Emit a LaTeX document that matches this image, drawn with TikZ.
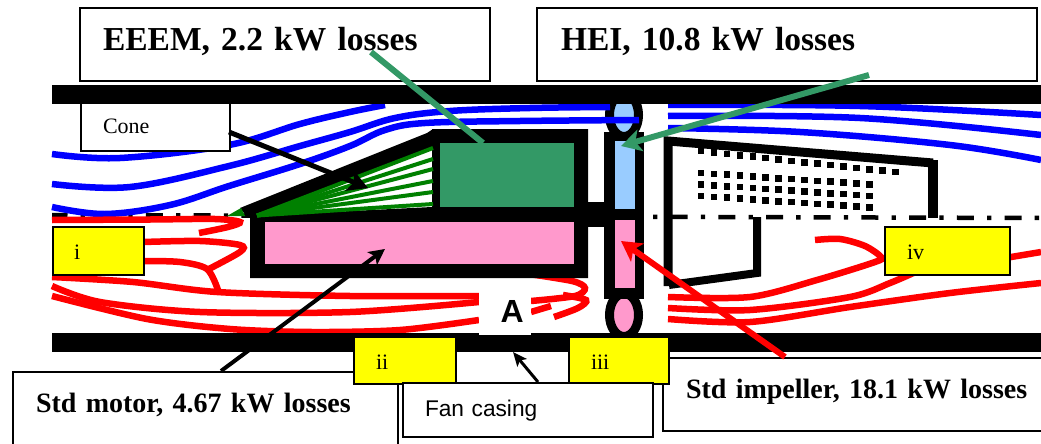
\documentclass[tikz,border=0pt]{standalone}
\usepackage{fontspec}
\setmainfont{Liberation Serif}
\setsansfont{Liberation Sans}
\usetikzlibrary{arrows.meta}
\definecolor{flowblue}{HTML}{0000FF}
\definecolor{flowred}{HTML}{FF0000}
\definecolor{seagreen}{HTML}{339966}
\definecolor{conegreen}{HTML}{008000}
\definecolor{lightpink}{HTML}{FF99CC}
\definecolor{skyblue}{HTML}{99CCFF}
\definecolor{tagyellow}{HTML}{FFFF00}
\tikzset{
  blueflow/.style={draw=flowblue,line width=6.5pt},
  redflow/.style={draw=flowred,line width=6.5pt,line cap=butt},
  labelbox/.style={draw=black,fill=white,line width=2pt},
  tagbox/.style={draw=black,fill=tagyellow,line width=2pt},
  plainbox/.style={fill=white},
  bigbold/.style={font=\fontsize{33.5}{36}\selectfont\bfseries},
  midbold/.style={font=\fontsize{28}{30}\selectfont\bfseries},
  smalltext/.style={font=\fontsize{22}{24}\selectfont},
  sanstext/.style={font=\fontsize{22.7}{25}\selectfont\sffamily},
  conefin/.style={draw=conegreen,line width=4pt},
  casingbar/.style={fill=black},
  dot/.style={fill=black},
  pointer/.style={-{Stealth[length=20pt,width=22pt,inset=5pt]}},
}
% #1 name, #2 x1, #3 y1, #4 x2, #5 y2, #6 text inset, #7 baseline offset from centre, #8 style, #9 text
\newcommand{\textbox}[9]{%
  \pgfmathsetmacro{\bw}{#4-#2}\pgfmathsetmacro{\bh}{#5-#3}%
  \node[#8,anchor=north west,inner sep=0pt,minimum width=\bw pt,minimum height=\bh pt,
        text width=\bw pt,align=left] (#1) at (#2,#3)
        {\hspace*{#6pt}\raisebox{#7pt}[0pt][0pt]{#9}};}
\begin{document}
\begin{tikzpicture}[x=1pt,y=-1pt]
\useasboundingbox (0,0) rectangle (1041,444);
\fill[white] (0,0) rectangle (1041,444);

% centre line
\begin{scope}
\clip (52,200) rectangle (1041,230);
\draw[line width=4.5pt,dash pattern=on 17pt off 13.2pt on 4.3pt off 13.2pt] (50.5,215) -- (1041,218);
\end{scope}

% impeller
\draw[line width=9pt,fill=skyblue] (624,115) ellipse [x radius=14.5,y radius=21.5];
\draw[line width=9pt,fill=lightpink] (624,315) ellipse [x radius=14.5,y radius=21.5];
\fill[black] (604,132) rectangle (644,299);
\fill[skyblue] (615,141) rectangle (635,209);
\fill[lightpink] (615,220) rectangle (635,288);
\fill[black] (586,202) rectangle (606,227);

% blue flow
\draw[blueflow] plot[smooth,tension=.6] coordinates {(52,154) (120,158) (229,145) (300,124) (350,112) (385,105)};
\draw[blueflow] plot[smooth,tension=.6] coordinates {(52,184) (130,187) (229,166) (300,146) (350,132) (395,118) (450,111) (530,108) (610,107)};
\draw[blueflow] plot[smooth,tension=.6] coordinates {(52,207) (105,214) (170,205) (229,186) (300,164) (350,146) (385,130) (425,123) (520,121) (639,120)};
\draw[blueflow] plot[smooth,tension=.6] coordinates {(668,105) (860,106) (1041,115)};
\draw[blueflow] plot[smooth,tension=.6] coordinates {(668,116) (860,118) (1041,135)};
\draw[blueflow] plot[smooth,tension=.6] coordinates {(668,128) (800,132) (950,145) (1041,160)};

% red flow, left
\draw[redflow] plot[smooth,tension=.5] coordinates {(52,220) (150,219.5) (215,219) (240,222) (228,227) (199,233)};
\draw[redflow] plot[smooth,tension=.5] coordinates {(143,242) (200,241) (240,245) (240,252) (207,270)};
\draw[redflow] plot[smooth,tension=.5] coordinates {(143,261) (180,262) (207,269) (218,290)};
\draw[redflow] plot[smooth,tension=.5] coordinates {(52,277) (133,282) (217,292) (350,296) (479,296)};
\draw[redflow] plot[smooth,tension=.5] coordinates {(52,286) (100,302) (200,312) (350,312) (479,302)};
\draw[redflow] plot[smooth,tension=.5] coordinates {(52,296) (147,319) (230,329) (312,332) (400,330) (479,320)};
% red flow, behind A
\draw[redflow] plot[smooth,tension=.5] coordinates {(522,273) (572,281) (585,288) (575,296) (531,301)};
\draw[redflow] (531,312) -- (551,306);
\draw[redflow] plot[smooth,tension=.5] coordinates {(563,295) (586,300) (578,308) (554,317)};
% red flow, right
\draw[redflow] plot[smooth,tension=.5] coordinates {(668,297) (750,297) (817,280) (875,262) (881,257) (865,246) (840,239) (815,240)};
\draw[redflow] plot[smooth,tension=.5] coordinates {(668,308) (750,310) (850,297) (890,283) (920,270)};
\draw[redflow] plot[smooth,tension=.5] coordinates {(668,319) (750,322) (850,307) (950,293) (1041,283)};
\draw[redflow] (1005,258) -- (1041,252);

% motor and cone
\fill[black] (250,216) -- (432,207) -- (432,129) -- (588,129) -- (588,278) -- (250,278) -- cycle;
\fill[black] (240,208) -- (427,133) -- (433,129) -- (433,148) -- (257,216) -- (247,217) -- cycle;
\fill[conegreen] (227,216) -- (241,208) -- (245,216) -- cycle;
\foreach \yy in {148,159,169,181,192,204}
  \draw[conefin] (257,215.5) -- (433,\yy);
\fill[seagreen] (440,143) rectangle (574,207);
\fill[lightpink] (265,222) rectangle (574,264);

% diffuser / rear shape
\draw[line width=9pt,line join=miter] (668,286) -- (668,141) -- (933,163);
\draw[line width=10pt] (933,160) -- (933,218);
\draw[line width=8pt,line join=miter] (757,217) -- (757,273) -- (669,285);

% dots
\foreach \i in {0,...,15}
  \fill[dot] ({701+12.95*\i-3.3},{151+1.4*\i-3.3}) rectangle +(6.6,6.6);
\foreach \r/\yy in {0/173,1/184.5,2/196}
  \foreach \i in {0,...,13}
    \fill[dot] ({701+12.95*\i-3.3},{\yy+.87*\i-3.3}) rectangle +(6.6,6.6);

% casing
\fill[casingbar] (52,85) rectangle (1041,104);
\fill[casingbar] (52,333) rectangle (1041,352);

% labels
\textbox{A}{479}{293}{531}{335}{21.5}{-8.7}{plainbox,font=\fontsize{32}{34}\selectfont\sffamily\bfseries}{A}
\textbox{eeem}{79}{7}{489}{80}{23}{-6.5}{labelbox,bigbold}{EEEM, 2.2 kW losses}
\textbox{hei}{536}{7}{1036}{80}{24}{-6.5}{labelbox,bigbold}{HEI, 10.8 kW losses}
\textbox{cone}{80}{102}{229}{150}{22}{-6}{labelbox,smalltext}{Cone}
\textbox{motor}{12}{371}{397}{447}{23}{-2}{labelbox,midbold}{Std motor, 4.67 kW losses}
\textbox{impeller}{662}{357}{1041}{430}{23}{-3.5}{labelbox,midbold}{Std impeller, 18.1 kW losses}
\textbox{tagi}{52}{226}{143}{274}{21}{-8}{tagbox,smalltext}{i}
\textbox{tagii}{353}{336}{455}{383}{22}{-8.5}{tagbox,smalltext}{ii}
\textbox{tagiii}{568}{336}{668}{383}{22}{-8.5}{tagbox,smalltext}{iii}
\textbox{tagiv}{884}{226}{1009}{274}{22}{-8}{tagbox,smalltext}{iv}
\textbox{casing}{402}{382}{652}{436}{22}{-6}{labelbox,sanstext}{Fan casing}

% pointers
\coordinate (eeemEnd) at (371,52);
\coordinate (eeemTip) at (483,143);
\draw[draw=seagreen,line width=6pt] (eeemEnd) -- (eeemTip);
\coordinate (heiEnd) at (869,75);
\coordinate (heiTip) at (621,146);
\draw[pointer,draw=seagreen,fill=seagreen,line width=6pt] (heiEnd) -- (heiTip);
\coordinate (impEnd) at (785,357);
\coordinate (impTip) at (621,241);
\draw[pointer,draw=flowred,fill=flowred,line width=6pt] (impEnd) -- (impTip);
\coordinate (coneEnd) at (229,132);
\coordinate (coneTip) at (368,188);
\draw[pointer,draw=black,line width=5pt] (coneEnd) -- (coneTip);
\coordinate (motorEnd) at (221,371);
\coordinate (motorTip) at (385,249);
\draw[-{Stealth[length=16pt,width=16pt,inset=4pt]},line width=4pt] (motorEnd) -- (motorTip);
\coordinate (casingEnd) at (538,382);
\coordinate (casingTip) at (513,352);
\draw[-{Stealth[length=14pt,width=12pt,inset=3pt]},line width=3pt] (casingEnd) -- (casingTip);
\end{tikzpicture}
\end{document}
